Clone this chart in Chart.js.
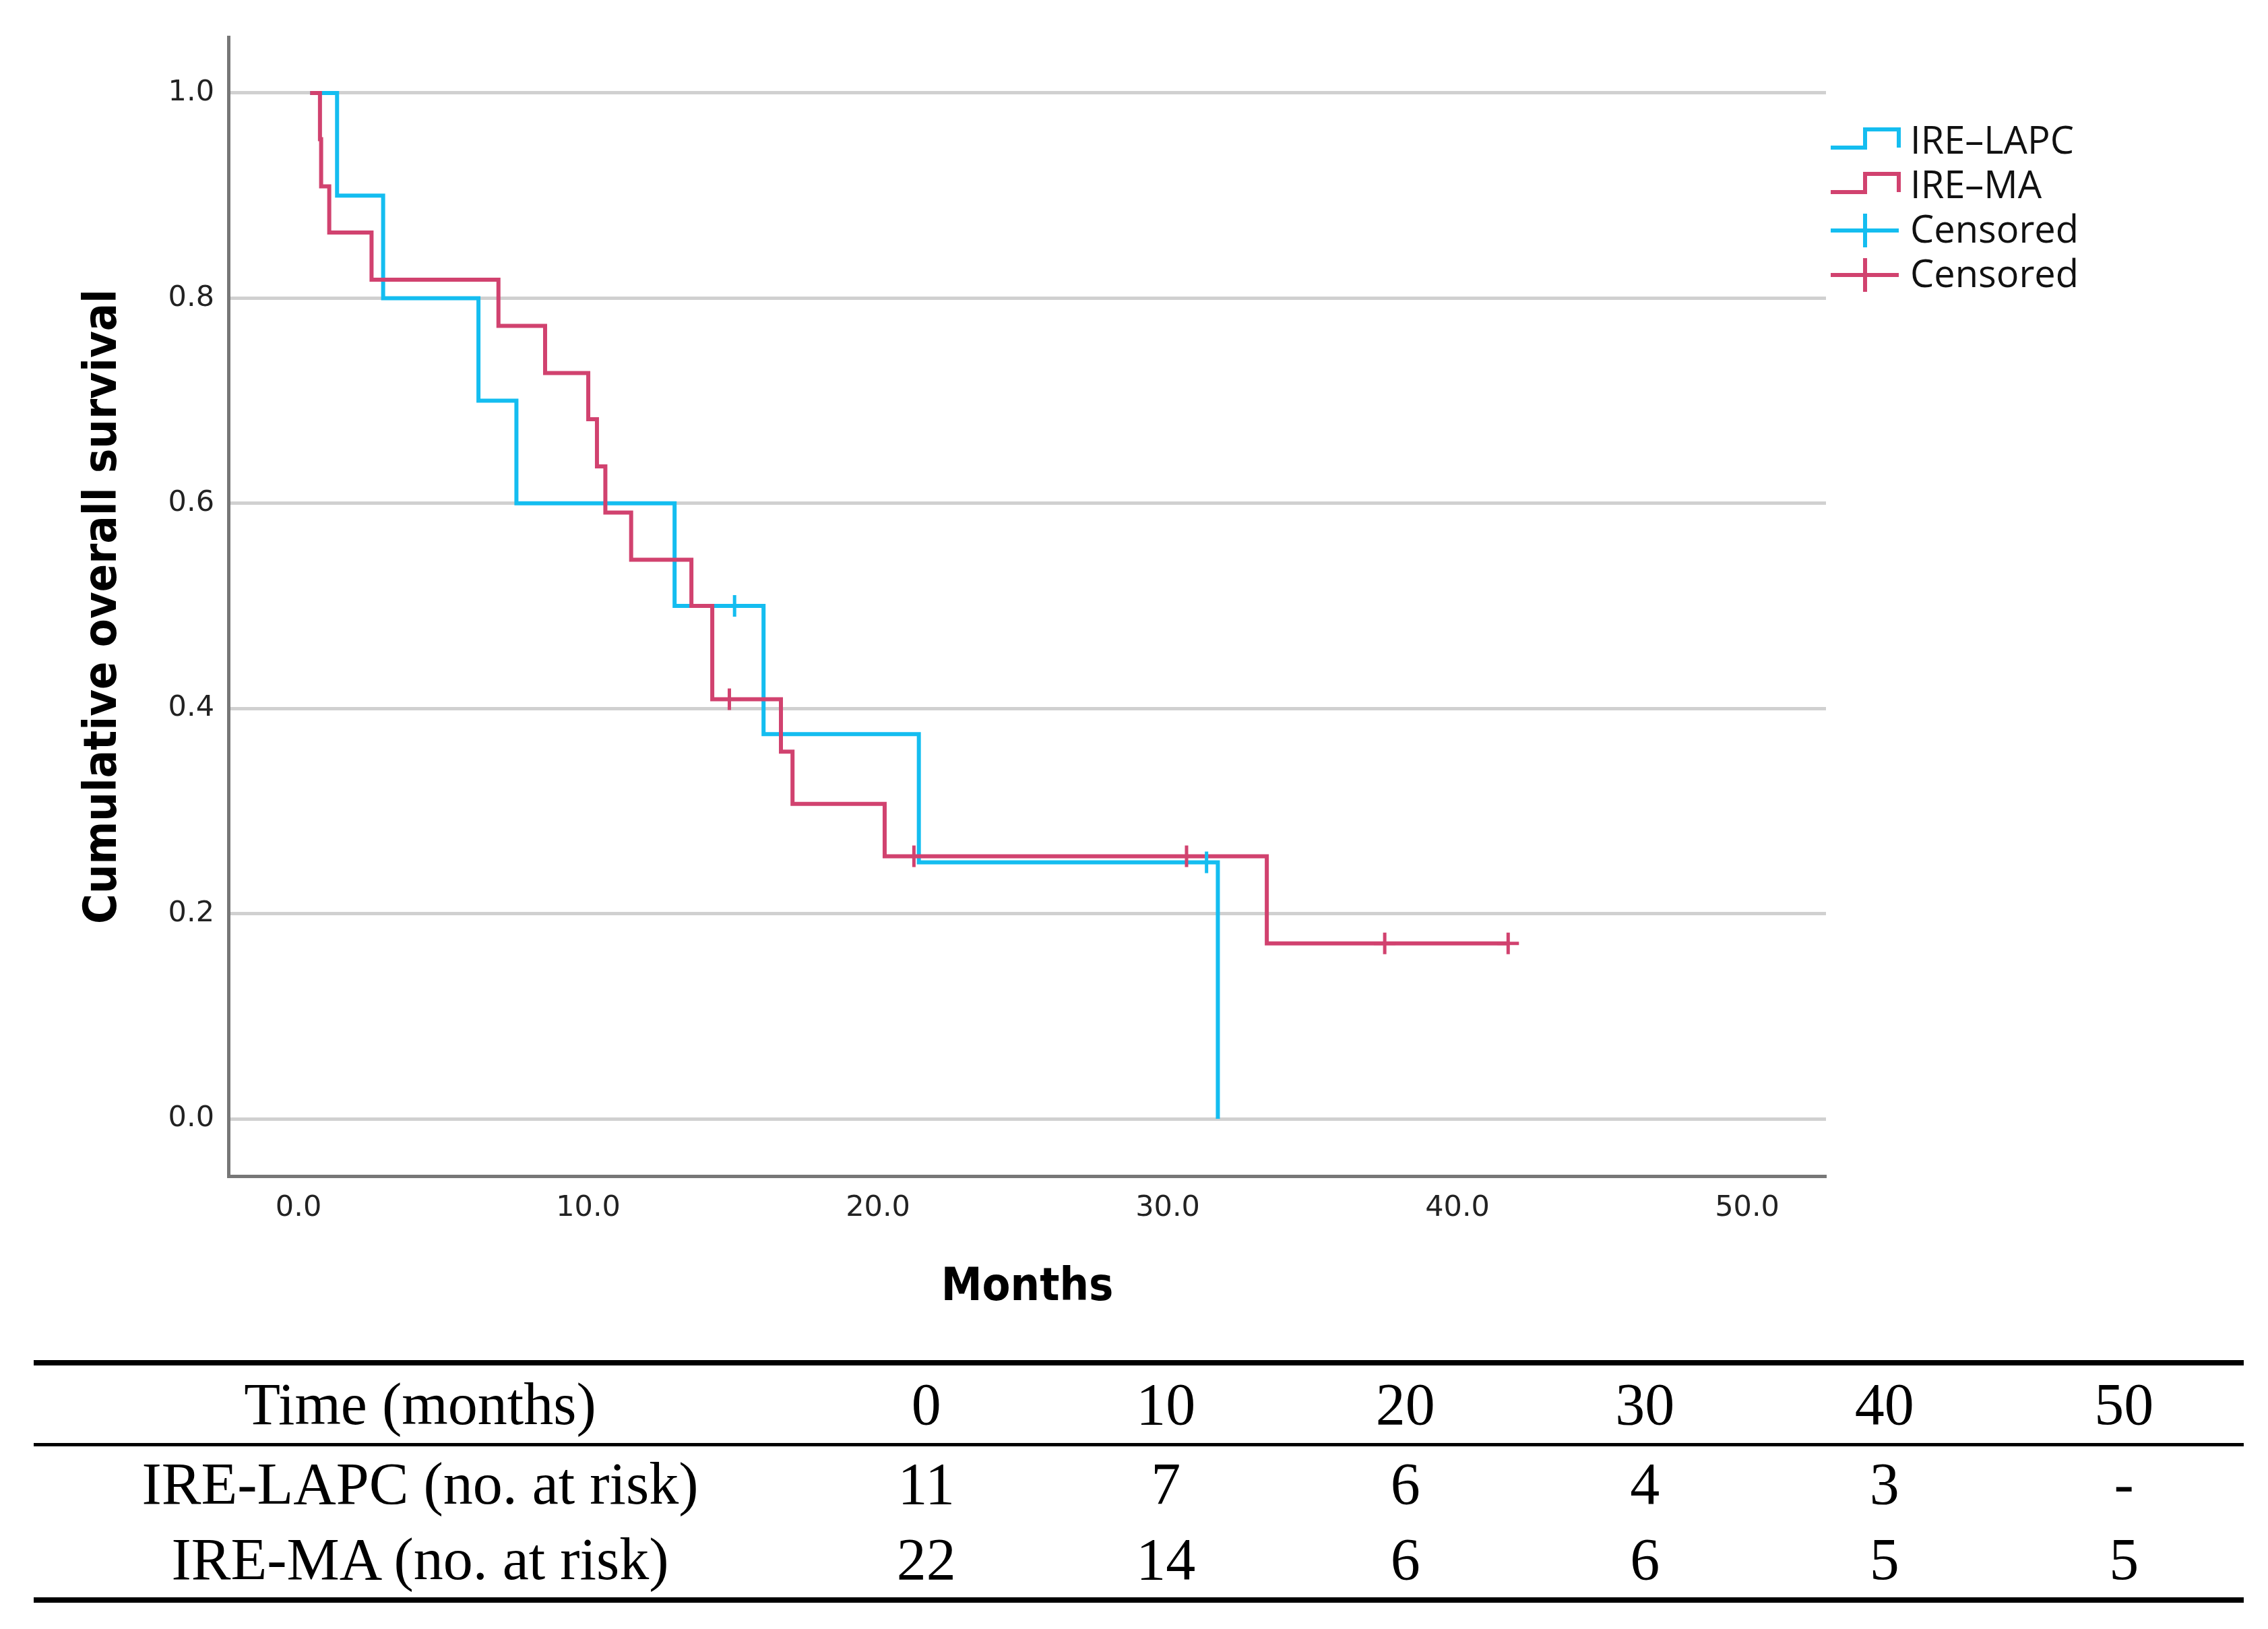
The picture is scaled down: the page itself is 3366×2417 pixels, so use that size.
<!DOCTYPE html>
<html>
<head>
<meta charset="utf-8">
<script src="https://cdn.jsdelivr.net/npm/chart.js@4.4.0/dist/chart.umd.min.js"></script>
<style>
  html, body { margin: 0; padding: 0; background: #fff; }
  #wrap { position: relative; width: 3366px; height: 2417px; }
  #km { position: absolute; left: 0; top: 0; }
  #risk { position: absolute; left: 50px; top: 2018px; width: 3280px; border-collapse: collapse; table-layout: fixed;
          font-family: 'Liberation Serif', 'Times New Roman', serif; font-size: 88px; color: #000;
          border-top: 8px solid #000; border-bottom: 8px solid #000; }
  #risk td { text-align: center; padding: 0; line-height: 1; }
  #risk thead td { height: 115px; border-bottom: 5px solid #000; }
  #risk tbody td { height: 112px; }
</style>
</head>
<body>
<div id="wrap">
  <canvas id="km" width="3366" height="1990"></canvas>
  <table id="risk">
    <colgroup><col style="width:1147px"></colgroup>
    <thead><tr id="riskHead"></tr></thead>
    <tbody id="riskBody"></tbody>
  </table>
</div>
<script>
// Kaplan-Meier steps (time in months, cumulative survival)
const lapcTimes = [0.4, 1.33, 2.92, 6.21, 7.52, 12.98, 16.05, 21.41, 31.73];
const lapcSurv  = [1.0, 0.9, 0.8, 0.7, 0.6, 0.5, 0.375, 0.25, 0.0];
const lapcCensorTimes = [15.05, 31.34];
const lapcCensorSurv  = [0.5, 0.25];

const maTimes = [0.4, 0.74, 0.78, 1.06, 2.52, 6.9, 8.51, 10.0, 10.3, 10.59, 11.48, 13.56, 14.28, 16.65, 17.05, 20.23, 33.42, 41.75];
const maSurv  = [1.0, 0.955, 0.909, 0.864, 0.818, 0.773, 0.727, 0.682, 0.636, 0.591, 0.545, 0.5, 0.409, 0.358, 0.307, 0.256, 0.171, 0.171];
const maCensorTimes = [14.87, 21.24, 30.65, 37.49, 41.75];
const maCensorSurv  = [0.409, 0.256, 0.256, 0.171, 0.171];

const xTicks = [0, 10, 20, 30, 40, 50];
const yTicks = [0, 0.2, 0.4, 0.6, 0.8, 1.0];

// number-at-risk table
const riskTimes = [0, 10, 20, 30, 40, 50];
const riskLapc  = ['11', '7', '6', '4', '3', '-'];
const riskMa    = ['22', '14', '6', '6', '5', '5'];

const BLUE = '#14bdf0';
const RED = '#d1426f';

const pts = (xs, ys) => xs.map((x, i) => ({ x, y: ys[i] }));

const H = 1990, PLOT_BOTTOM = 1745;

const legendPlugin = {
    id: 'kmLegend',
    afterDraw(chart) {
        const ctx = chart.ctx;
        const items = chart.data.datasets.slice().sort((a, b) => a.legendPos - b.legendPos);
        ctx.save();
        ctx.font = '500 56px "Open Sans"';
        ctx.textBaseline = 'middle';
        items.forEach((ds, i) => {
            const y = 210 + i * 66;
            ctx.strokeStyle = ds.borderColor;
            ctx.lineWidth = 6;
            ctx.beginPath();
            if (ds.type === 'line') {
                ctx.moveTo(2717, y + 9); ctx.lineTo(2768, y + 9); ctx.lineTo(2768, y - 18);
                ctx.lineTo(2818, y - 18); ctx.lineTo(2818, y + 9);
            } else {
                ctx.moveTo(2717, y); ctx.lineTo(2818, y);
                ctx.moveTo(2768, y - 25); ctx.lineTo(2768, y + 25);
            }
            ctx.stroke();
            ctx.fillStyle = '#111';
            ctx.fillText(ds.label, 2835, y + 2);
        });
        ctx.restore();
    }
};

new Chart(document.getElementById('km'), {
    type: 'line',
    data: {
        datasets: [
            { type: 'scatter', label: 'Censored', legendPos: 3, data: pts(maCensorTimes, maCensorSurv), borderColor: RED, backgroundColor: RED,
              pointStyle: 'cross', pointRadius: 16, borderWidth: 5, order: 0 },
            { type: 'scatter', label: 'Censored', legendPos: 2, data: pts(lapcCensorTimes, lapcCensorSurv), borderColor: BLUE, backgroundColor: BLUE,
              pointStyle: 'cross', pointRadius: 16, borderWidth: 5, order: 1 },
            { type: 'line', label: 'IRE–MA', legendPos: 1, data: pts(maTimes, maSurv), borderColor: RED, borderWidth: 6,
              stepped: 'before', pointRadius: 0, fill: false, order: 2 },
            { type: 'line', label: 'IRE–LAPC', legendPos: 0, data: pts(lapcTimes, lapcSurv), borderColor: BLUE, borderWidth: 6,
              stepped: 'before', pointRadius: 0, fill: false, order: 3 },
        ]
    },
    options: {
        responsive: false,
        devicePixelRatio: 1,
        animation: false,
        layout: { padding: { left: 0, top: 55, right: 656, bottom: 0 } },
        plugins: { legend: { display: false }, tooltip: { enabled: false } },
        scales: {
            x: {
                type: 'linear', min: -2.42, max: 52.72,
                afterBuildTicks: s => { s.ticks = xTicks.map(v => ({ value: v })); },
                afterFit: s => { s.height = H - PLOT_BOTTOM; },
                grid: { display: false, drawTicks: false },
                border: { display: true, color: '#777', width: 5 },
                ticks: { padding: 22, color: '#222', font: { family: 'DejaVu Sans', size: 43 }, callback: v => v.toFixed(1), maxRotation: 0 },
                title: { display: true, text: 'Months', color: '#000', padding: { top: 0, bottom: 38 },
                         font: { family: "'DejaVu Sans Condensed', 'DejaVu Sans'", size: 68, weight: 'bold' } }
            },
            y: {
                type: 'linear', min: -0.0558, max: 1.0545,
                afterBuildTicks: s => { s.ticks = yTicks.map(v => ({ value: v })); },
                afterFit: s => { s.width = 339; },
                grid: { color: '#d0d0d0', lineWidth: 5, drawTicks: false },
                border: { display: true, color: '#777', width: 5 },
                ticks: { padding: 21, color: '#222', font: { family: 'DejaVu Sans', size: 43 }, callback: v => v.toFixed(1) },
                title: { display: true, text: 'Cumulative overall survival', color: '#000', padding: { top: 114, bottom: 0 },
                         font: { family: "'DejaVu Sans Condensed', 'DejaVu Sans'", size: 68, weight: 'bold' } }
            }
        }
    },
    plugins: [legendPlugin]
});

// at-risk table
const head = document.getElementById('riskHead');
head.innerHTML = '<td>Time (months)</td>' + riskTimes.map(t => `<td>${t}</td>`).join('');
document.getElementById('riskBody').innerHTML =
    '<tr><td>IRE-LAPC (no. at risk)</td>' + riskLapc.map(v => `<td>${v}</td>`).join('') + '</tr>' +
    '<tr><td>IRE-MA (no. at risk)</td>' + riskMa.map(v => `<td>${v}</td>`).join('') + '</tr>';
</script>
</body>
</html>
